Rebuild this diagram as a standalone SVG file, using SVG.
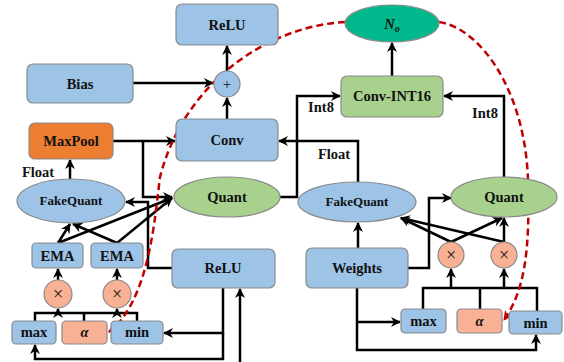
<svg xmlns="http://www.w3.org/2000/svg" width="564" height="362" viewBox="0 0 564 362">
<defs>
<marker id="ah" viewBox="0 0 10 10" refX="9" refY="5" markerWidth="4" markerHeight="4" orient="auto" markerUnits="strokeWidth"><path d="M0,0 L10,5 L0,10 L3,5 z" fill="#000"/></marker>
<marker id="ahr" viewBox="0 0 10 10" refX="9" refY="5" markerWidth="4" markerHeight="4" orient="auto" markerUnits="strokeWidth"><path d="M0,0 L10,5 L0,10 L3,5 z" fill="#C00000"/></marker>
</defs>
<style>
.b{fill:#9DC3E6;stroke:#8A8A8A;stroke-width:1.2}
.o{fill:#ED7D31;stroke:#8A8A8A;stroke-width:1.2}
.g{fill:#A9D18E;stroke:#8A8A8A;stroke-width:1.2}
.t{fill:#00B88C;stroke:#8A8A8A;stroke-width:1.2}
.s{fill:#F8B195;stroke:#8A8A8A;stroke-width:1.2}
text{font-family:"Liberation Serif","Times New Roman",serif;font-weight:bold;font-size:14.5px;fill:#111;text-anchor:middle}
.fq{font-size:13px}
.op{font-weight:normal;font-size:18px}
.pl{font-weight:normal;font-size:15px}
.c{fill:none;stroke:#000;stroke-width:2.5}
.a{marker-end:url(#ah)}
.r{fill:none;stroke:#C00000;stroke-width:2.5;stroke-dasharray:7 4;marker-end:url(#ahr)}
</style>
<g id="connectors">
<path class="c a" d="M227,119 V98"/>
<path class="c a" d="M227,71 V46"/>
<path class="c a" d="M133,83 H213"/>
<path class="c a" d="M113,141 H175"/>
<path class="c a" d="M143,141 V197 H172"/>
<path class="c a" d="M70,179 V160"/>
<path class="c a" d="M280,197 H297 V96 H340"/>
<path class="c a" d="M358,182 V141 H279"/>
<path class="c a" d="M504,177 V96 H444"/>
<path class="c a" d="M392,76 V43"/>
<path class="c a" d="M172,268 H148 V202 H126"/>
<path class="c a" d="M223,288 V333 H164"/>
<path class="c a" d="M223,333 V359 H35 V345"/>
<path class="c a" d="M240,362 V289"/>
<path class="c a" d="M58,243 L70,224"/>
<path class="c a" d="M58,243 L172,198"/>
<path class="c a" d="M117,243 L73,224"/>
<path class="c a" d="M117,243 L172,198"/>
<path class="c a" d="M58,280 V269"/>
<path class="c a" d="M117,280 V269"/>
<path class="c" d="M35,321 V313 H137 V321 M84,313 V321"/>
<path class="c a" d="M58,313 V309"/>
<path class="c a" d="M117,313 V309"/>
<path class="c a" d="M358,248 V223"/>
<path class="c a" d="M408,268 H429 V198 H451"/>
<path class="c a" d="M451,242 L401,218"/>
<path class="c a" d="M451,242 L502,218"/>
<path class="c a" d="M504,242 V218"/>
<path class="c a" d="M504,242 L401,218"/>
<path class="c" d="M423,309 V288 H537 V311 M480,288 V309"/>
<path class="c a" d="M451,288 V269"/>
<path class="c a" d="M504,288 V269"/>
<path class="c a" d="M357,288 V350 H536 V335"/>
<path class="c a" d="M357,322 H400"/>
<path class="r" d="M345,22 C270,26 185,80 160,177 C155,215 150,300 109,332"/>
<path class="r" d="M439,22 C480,28 525,90 528,180 C530,250 525,290 504,320"/>
</g>
<g id="relu_top"><rect class="b" x="176" y="4" width="102" height="41" rx="6"/><text x="227" y="30">ReLU</text></g>
<g id="bias"><rect class="b" x="27" y="64" width="106" height="39" rx="6"/><text x="80" y="89">Bias</text></g>
<g id="plus"><circle class="b" cx="227" cy="84" r="13"/><text class="pl" x="227" y="89">+</text></g>
<g id="maxpool"><rect class="o" x="29" y="123" width="84" height="36" rx="6"/><text x="71" y="146">MaxPool</text></g>
<g id="conv"><rect class="b" x="176" y="119" width="102" height="42" rx="6"/><text x="227" y="145">Conv</text></g>
<g id="n_o"><ellipse class="t" cx="392" cy="23.5" rx="47" ry="18.5"/><text x="392" y="29" font-style="italic">N<tspan font-size="10" dy="3">o</tspan></text></g>
<g id="conv_int16"><rect class="g" x="341" y="76" width="102" height="41" rx="6"/><text x="392" y="101">Conv-INT16</text></g>
<g id="fakequant_left"><ellipse class="b" cx="71" cy="201" rx="54" ry="22"/><text class="fq" x="71" y="205">FakeQuant</text></g>
<g id="quant_left"><ellipse class="g" cx="227" cy="197" rx="53" ry="20"/><text x="227" y="202">Quant</text></g>
<g id="fakequant_right"><ellipse class="b" cx="357" cy="202" rx="59" ry="20"/><text class="fq" x="357" y="206">FakeQuant</text></g>
<g id="quant_right"><ellipse class="g" cx="504" cy="197" rx="53" ry="20"/><text x="504" y="202">Quant</text></g>
<g id="relu_bottom"><rect class="b" x="172" y="249" width="103" height="39" rx="6"/><text x="223" y="273">ReLU</text></g>
<g id="weights"><rect class="b" x="306" y="248" width="102" height="40" rx="6"/><text x="357" y="273">Weights</text></g>
<g id="ema1"><rect class="b" x="32" y="243" width="51" height="25" rx="4"/><text x="57.5" y="261">EMA</text></g>
<g id="ema2"><rect class="b" x="91" y="243" width="52" height="25" rx="4"/><text x="117" y="261">EMA</text></g>
<g id="mul1"><circle class="s" cx="58" cy="294" r="14"/><text class="op" x="58" y="300">×</text></g>
<g id="mul2"><circle class="s" cx="117" cy="294" r="14"/><text class="op" x="117" y="300">×</text></g>
<g id="max_left"><rect class="b" x="12" y="321" width="44" height="23" rx="4"/><text x="34" y="337">max</text></g>
<g id="alpha_left"><rect class="s" x="62" y="321" width="45" height="23" rx="4"/><text x="84.5" y="337" font-style="italic">α</text></g>
<g id="min_left"><rect class="b" x="111" y="321" width="52" height="23" rx="4"/><text x="137" y="337">min</text></g>
<g id="mul3"><circle class="s" cx="451" cy="255" r="13"/><text class="op" x="451" y="261">×</text></g>
<g id="mul4"><circle class="s" cx="504" cy="255" r="13"/><text class="op" x="504" y="261">×</text></g>
<g id="max_right"><rect class="b" x="401" y="309" width="45" height="24" rx="4"/><text x="423.5" y="326">max</text></g>
<g id="alpha_right"><rect class="s" x="457" y="309" width="45" height="24" rx="4"/><text x="479.5" y="326" font-style="italic">α</text></g>
<g id="min_right"><rect class="b" x="509" y="311" width="53" height="23" rx="4"/><text x="535.5" y="328">min</text></g>
<g id="labels">
<text x="38" y="177">Float</text>
<text x="334" y="159">Float</text>
<text x="321" y="112">Int8</text>
<text x="485" y="118">Int8</text>
</g>
</svg>
